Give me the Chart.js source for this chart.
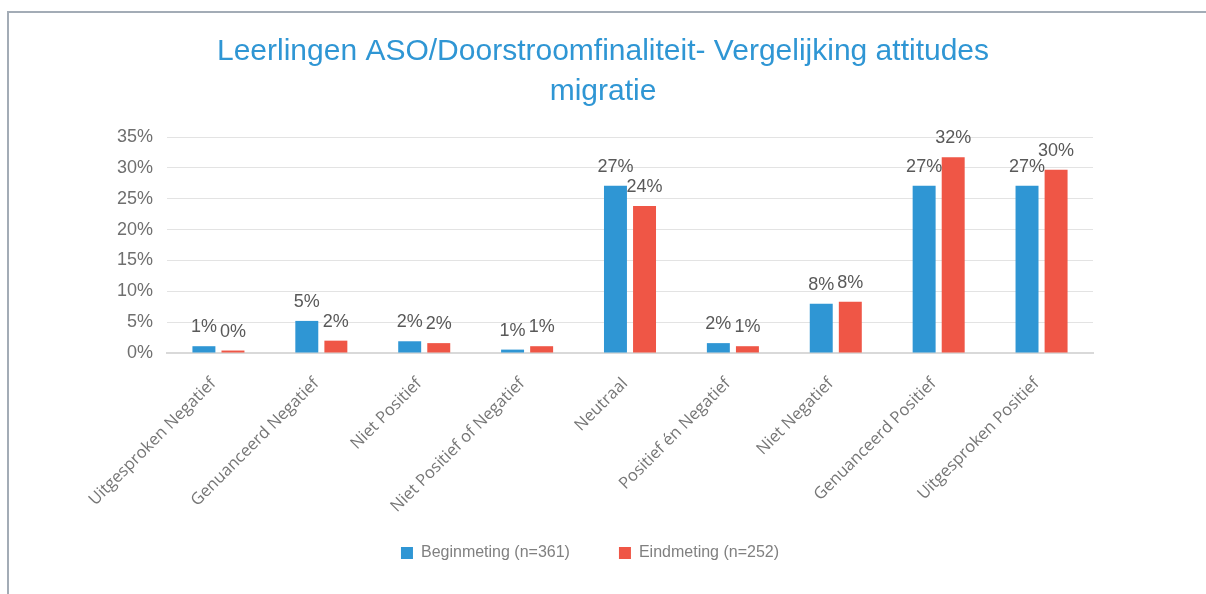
<!DOCTYPE html>
<html>
<head>
<meta charset="utf-8">
<script src="https://cdn.jsdelivr.net/npm/chart.js@4.4.0/dist/chart.umd.min.js"></script>
<style>
    body { margin: 0; background: #fff; }
    #frame {
        position: absolute; left: 7px; top: 11px; right: 0; bottom: 0;
        border-top: 2px solid #a3acb6; border-left: 2px solid #a3acb6;
    }
    #wrap { position: absolute; left: 0; top: 0; width: 1206px; height: 594px; }
</style>
</head>
<body>
<div id="frame"></div>
<div id="wrap"><canvas id="attitudeChart"></canvas></div>
<script>
// Data
const categories = [
    'Uitgesproken Negatief', 'Genuanceerd Negatief', 'Niet Positief',
    'Niet Positief of Negatief', 'Neutraal', 'Positief én Negatief',
    'Niet Negatief', 'Genuanceerd Positief', 'Uitgesproken Positief'
];
const beginmeting = [1.1, 5.2, 1.9, 0.55, 27.1, 1.6, 8.0, 27.1, 27.1];
const eindmeting = [0.4, 2.0, 1.6, 1.1, 23.8, 1.1, 8.3, 31.7, 29.7];
const seriesNames = ['Beginmeting (n=361)', 'Eindmeting (n=252)'];
const yTicks = [0, 5, 10, 15, 20, 25, 30, 35];

const labelFont = "'Liberation Sans', Arial, sans-serif";

// Draw the value labels above every bar
const valueLabels = {
    id: 'valueLabels',
    afterLayout(chart) {
        // legend sits a little left of centre in the original
        chart.legend.left -= 13;
        chart.legend.right -= 13;
    },
    afterDatasetsDraw(chart) {
        const ctx = chart.ctx;
        ctx.save();
        ctx.font = '18px ' + labelFont;
        ctx.fillStyle = '#595959';
        ctx.textAlign = 'center';
        ctx.textBaseline = 'alphabetic';
        chart.data.datasets.forEach((ds, i) => {
            chart.getDatasetMeta(i).data.forEach((bar, j) => {
                ctx.fillText(Math.round(ds.data[j]) + '%', bar.x, bar.y - 14);
            });
        });
        ctx.restore();
    }
};

window.addEventListener('DOMContentLoaded', () => {
    const ctx = document.getElementById('attitudeChart').getContext('2d');
    new Chart(ctx, {
        type: 'bar',
        data: {
            labels: categories,
            datasets: [{
                label: seriesNames[0],
                data: beginmeting,
                backgroundColor: '#2f96d4',
                barPercentage: 0.79,
                categoryPercentage: 0.565
            }, {
                label: seriesNames[1],
                data: eindmeting,
                backgroundColor: '#ef5646',
                barPercentage: 0.79,
                categoryPercentage: 0.565
            }]
        },
        options: {
            responsive: true,
            maintainAspectRatio: false,
            animation: false,
            layout: { padding: { left: 0, right: 0, top: 0, bottom: 23 } },
            plugins: {
                title: {
                    display: true,
                    text: ['Leerlingen ASO/Doorstroomfinaliteit- Vergelijking attitudes', 'migratie'],
                    color: '#2f96d4',
                    font: { family: "'Liberation Sans', Arial, sans-serif", size: 30, weight: 'normal', lineHeight: 40 / 30 },
                    padding: { top: 32, bottom: 25 }
                },
                legend: {
                    position: 'bottom',
                    labels: {
                        boxWidth: 12,
                        boxHeight: 12,
                        padding: 49,
                        color: '#808080',
                        font: { family: labelFont, size: 16 }
                    }
                },
                tooltip: { enabled: false }
            },
            scales: {
                x: {
                    grid: { display: false },
                    border: { display: true, color: '#d9d9d9', width: 2 },
                    ticks: {
                        autoSkip: false,
                        maxRotation: 45,
                        minRotation: 45,
                        padding: 13,
                        labelOffset: -5,
                        color: '#767676',
                        font: { family: "'Open Sans', sans-serif", size: 16.5 }
                    },
                    afterFit(scale) {
                        scale.height = 143;
                        // let the long rotated labels run past the axis box
                        scale._computeLabelArea = () => undefined;
                    }
                },
                y: {
                    min: 0,
                    max: 35,
                    afterBuildTicks(scale) { scale.ticks = yTicks.map(v => ({ value: v })); },
                    grid: { color: '#e3e3e3', drawTicks: false },
                    border: { display: false },
                    ticks: {
                        padding: 14,
                        color: '#6f6f6f',
                        font: { family: labelFont, size: 18 },
                        callback: v => v + '%'
                    },
                    afterFit(scale) { scale.width = 167; }
                },
                yRight: {
                    position: 'right',
                    grid: { display: false },
                    border: { display: false },
                    ticks: { display: false },
                    afterFit(scale) { scale.width = 113; }
                }
            }
        },
        plugins: [valueLabels]
    });
});
</script>
</body>
</html>
